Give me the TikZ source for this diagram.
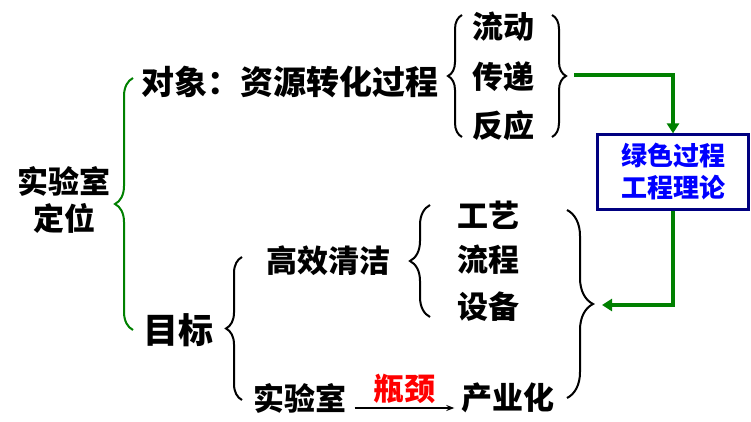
\documentclass[tikz,border=0pt]{standalone}
\usepackage{fontspec}
\setmainfont{Noto Sans CJK SC}
\usetikzlibrary{arrows.meta,decorations.pathreplacing}
\definecolor{leafgreen}{RGB}{0,128,0}
\definecolor{boxnavy}{RGB}{0,0,128}
\begin{document}
\begin{tikzpicture}[
    x=1pt, y=-1pt,
    txt/.style={inner sep=0pt, font=\fontsize{31}{37}\selectfont\bfseries},
    curly/.style={decorate, decoration={brace, amplitude=#1}, line width=2pt},
    flow/.style={-{Triangle[length=10pt,width=12pt]}, leafgreen, line width=3.2pt},
    arrow/.style={-{Stealth[length=8pt,width=6pt]}, line width=1.4pt}
]
\useasboundingbox (0,0) rectangle (751,422);

% Left column
\node[txt, align=center] (lab) at (64,200) {实验室\\定位};
\node[txt, font=\fontsize{33}{37}\selectfont\bfseries] (obj) at (290,82) {对象：资源转化过程};
\node[txt, font=\fontsize{35}{37}\selectfont\bfseries] (goal) at (178,330) {目标};

% Object branch
\node[txt] (flowing) at (503,27) {流动};
\node[txt] (transfer) at (503,77) {传递};
\node[txt] (react) at (503,126) {反应};

% Goal branch
\node[txt] (clean) at (328,261) {高效清洁};
\node[txt] (craft) at (488,215) {工艺};
\node[txt] (proc) at (488,260) {流程};
\node[txt] (equip) at (488,307) {设备};
\node[txt] (lab2) at (300,398) {实验室};
\node[txt] (ind) at (508,398) {产业化};
\node[txt, text=red] (neck) at (404,389) {瓶颈};

% Theory box
\node[draw=boxnavy, line width=2.2pt, minimum width=151pt, minimum height=75pt,
      align=center, text=blue, font=\fontsize{26}{32}\selectfont\bfseries] (theory) at (673,172) {绿色过程\\工程理论};

% Braces
\draw[curly=18pt, leafgreen] (133,330) -- (133,78);
\draw[curly=16pt] (242,400) -- (242,257);
\draw[curly=14pt] (462,137) -- (462,15);
\draw[curly=14pt] (552,15) -- (552,137);
\draw[curly=20pt] (430,317) -- (430,205);
\draw[curly=26pt] (567,210) -- (567,398);

% Connectors
\coordinate (objtip) at (574,75);
\coordinate (goaltip) at (602,305);
\draw[flow] (objtip) -| (theory.north);
\draw[flow] (theory.south) |- (goaltip);
\draw[arrow] ([shift={(8,10)}]lab2.east) -- ([shift={(-7,10)}]ind.west);
\end{tikzpicture}
\end{document}
